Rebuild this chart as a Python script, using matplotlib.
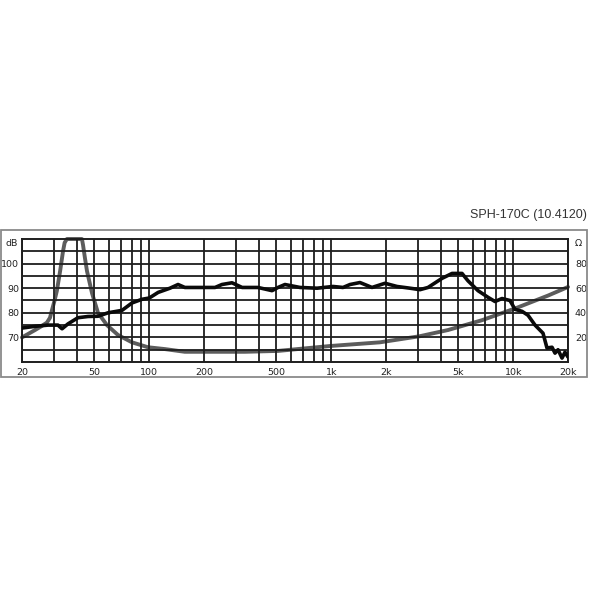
import matplotlib
matplotlib.use("Agg")
import matplotlib.pyplot as plt
from matplotlib.patches import Rectangle
from matplotlib.ticker import NullFormatter, FixedLocator

title = "SPH-170C (10.4120)"

spl_freq = [20, 23.6, 27.8, 31.5, 33.2, 35.8, 40.6, 46.1, 52.3, 59.4,
            70.9, 80.4, 91.3, 100, 112, 130, 144, 157, 185, 230,
            251, 285, 324, 396, 473, 510, 557, 674, 836, 1023,
            1161, 1269, 1439, 1675, 1975, 2299, 2710, 3075, 3403, 4063,
            4612, 5233, 5644, 6405, 7268, 7940, 8677, 9600, 10230, 11180,
            12060, 13180, 14580, 15330, 16340, 16970, 17630, 18540, 19250, 20000]
spl_db = [73.8, 74.5, 75, 75, 73.5, 75.5, 78, 78.5, 78.6, 80,
          81, 84, 85.5, 86, 88.3, 90, 91.5, 90.3, 90.3, 90.3,
          91.5, 92.2, 90.3, 90.3, 89, 90.3, 91.5, 90.3, 90, 90.7,
          90.3, 91.5, 92.3, 90.3, 92, 90.7, 90, 89.4, 90.3, 94,
          96, 96, 93, 89, 86.3, 84.6, 85.8, 85, 81.4, 80.6,
          79, 75, 71.7, 65.7, 66, 63.6, 65, 61.6, 64, 62]

imp_freq = [20, 23.6, 25.5, 27.4, 28.5, 29.2, 30.2, 31.1, 32.4, 33.6,
            34.3, 35.3, 42.7, 43.3, 44.3, 45.5, 48.5, 52.3, 58.6, 67.3,
            80.4, 98.4, 122, 157, 336, 510, 985, 1854, 3075, 4384,
            6740, 10230, 15530, 20000]
imp_ohm = [20, 26, 29, 32, 36, 42, 50, 58, 74, 90,
           97, 100, 100, 95, 85, 74, 56, 40, 30, 22,
           16, 12, 10.5, 8.3, 8.3, 9, 13, 16, 21, 26,
           34, 43.5, 54, 61]

x_ticks = [20, 50, 100, 200, 500, 1000, 2000, 5000, 10000, 20000]
x_labels = ["20", "50", "100", "200", "500", "1k", "2k", "5k", "10k", "20k"]
db_ticks = [70, 80, 90, 100]
ohm_ticks = [20, 40, 60, 80]

W = H = 590
fig = plt.figure(figsize=(5.9, 5.9), dpi=100)
fig.patch.set_facecolor("white")

# outer frame
fig.patches.append(Rectangle((1 / W, 1 - 377 / H), 586 / W, 147 / H,
                             transform=fig.transFigure, fill=False,
                             edgecolor="#8a8a8a", linewidth=1.3))

fig.text(587 / W, 1 - 215 / H, title, ha="right", va="center",
         fontsize=9, family="Liberation Sans", color="#333333")

ax = fig.add_axes([22 / W, 1 - 362 / H, 546 / W, 123 / H])
ax.set_xscale("log")
ax.set_xlim(20, 20000)
ax.set_ylim(60, 110)

grid_c = "#1e1e1e"
minor = [m * d for d in (10, 100, 1000) for m in range(2, 10)] + [20000]
minor = [v for v in minor if 20 < v < 20000]
ax.xaxis.set_major_locator(FixedLocator(x_ticks))
ax.set_xticklabels(x_labels)
ax.xaxis.set_minor_locator(FixedLocator(minor))
ax.xaxis.set_minor_formatter(NullFormatter())
ax.grid(True, which="both", axis="x", color=grid_c, linewidth=1.3)
for yv in range(65, 110, 5):
    ax.axhline(yv, color=grid_c, linewidth=1.3, zorder=1)
ax.set_yticks(db_ticks)
ax.tick_params(axis="both", which="both", length=0)
ax.tick_params(axis="x", pad=4, labelsize=6.8, colors="#222222")
ax.tick_params(axis="y", pad=2, labelsize=6.8, colors="#222222")
for s in ax.spines.values():
    s.set_color(grid_c)
    s.set_linewidth(1.4)
ax.set_axisbelow(True)

ax2 = ax.twinx()
ax2.set_ylim(0, 100)
ax2.set_yticks(ohm_ticks)
ax2.tick_params(axis="y", length=0, pad=5, labelsize=6.8, colors="#222222")
for s in ax2.spines.values():
    s.set_visible(False)

ax2.plot(imp_freq, imp_ohm, color="#5c5c5c", linewidth=2.8,
         solid_joinstyle="round", solid_capstyle="round",
         clip_on=False, zorder=3)
ax.plot(spl_freq, spl_db, color="#0a0a0a", linewidth=2.6,
        solid_joinstyle="round", solid_capstyle="round", zorder=4)
ax.set_zorder(ax2.get_zorder() + 1)
ax.patch.set_visible(False)

fig.text(12 / W, 1 - 243 / H, "dB", ha="center", va="center",
         fontsize=6.8, color="#222222")
fig.text(578 / W, 1 - 243 / H, "Ω", ha="center", va="center",
         fontsize=6.8, color="#222222")

fig.savefig("out.png", dpi=100, facecolor="white")
